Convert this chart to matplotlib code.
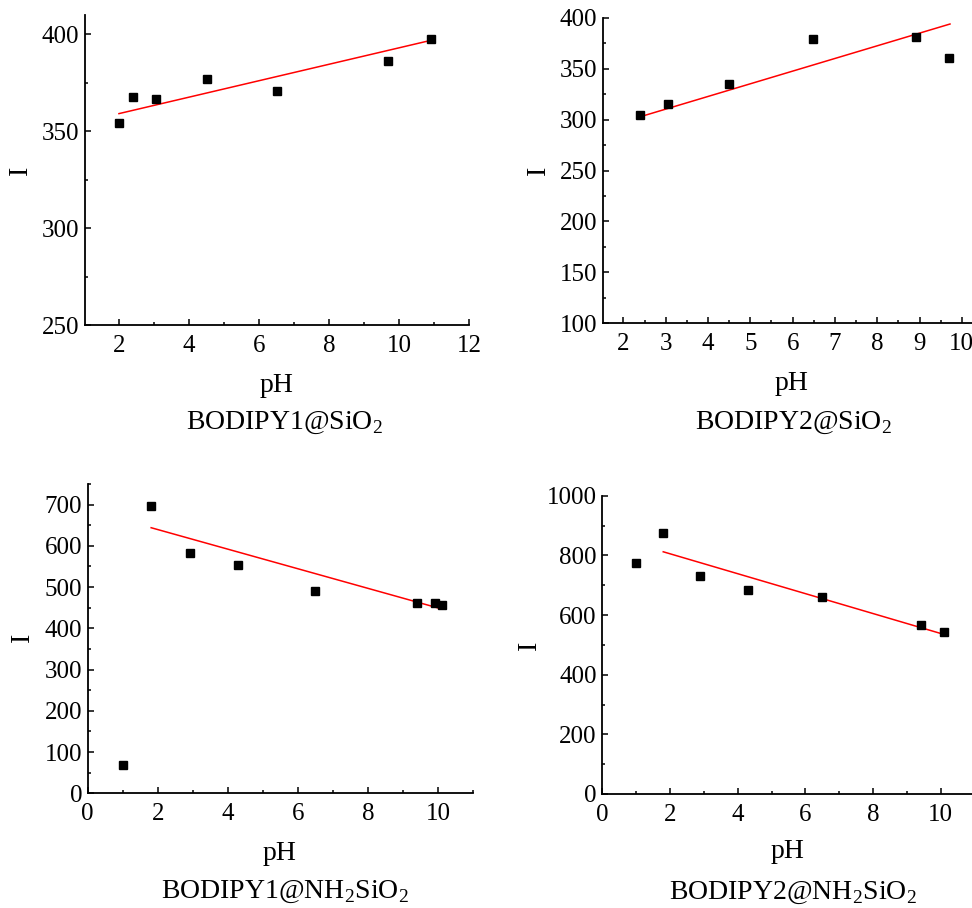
import numpy as np
import matplotlib
matplotlib.use("Agg")
import matplotlib.pyplot as plt
from matplotlib.ticker import MultipleLocator

plt.rcParams["font.family"] = ["Liberation Serif", "DejaVu Serif"]
plt.rcParams["mathtext.fontset"] = "custom"
plt.rcParams["mathtext.rm"] = "Liberation Serif"

W, H = 972, 908

# ----------- DATA -----------
ph_1 = [2.0, 2.4, 3.07, 4.51, 6.51, 9.69, 10.91]
i_1 = [354.3, 367.9, 366.9, 377.1, 370.9, 386.2, 397.4]
fit_x_1 = [2.0, 10.93]
fit_y_1 = [359.1, 397.0]

ph_2 = [2.40, 3.06, 4.50, 6.49, 8.91, 9.69]
i_2 = [304.5, 315.3, 334.9, 379.1, 380.7, 360.1]
fit_x_2 = [2.40, 9.72]
fit_y_2 = [302.8, 393.8]

ph_3 = [1.02, 1.81, 2.92, 4.30, 6.49, 9.40, 9.90, 10.11]
i_3 = [68.7, 695.9, 583.4, 553.5, 489.4, 461.3, 461.0, 456.4]
fit_x_3 = [1.81, 10.11]
fit_y_3 = [644.0, 446.7]

ph_4 = [0.99, 1.80, 2.90, 4.29, 6.49, 9.40, 10.09]
i_4 = [774.4, 876.0, 731.8, 683.9, 659.4, 566.5, 543.0]
fit_x_4 = [1.80, 10.09]
fit_y_4 = [812.0, 535.0]

titles = ["BODIPY1@SiO$_2$", "BODIPY2@SiO$_2$",
          "BODIPY1@NH$_2$SiO$_2$", "BODIPY2@NH$_2$SiO$_2$"]

# ----------- LAYOUT (pixel boxes: left, right, top, bottom) -----------
panels = [
    dict(x=ph_1, y=i_1, fx=fit_x_1, fy=fit_y_1, box=(85, 469, 15, 325),
         xlim=(1.03, 12), ylim=(250, 410), xmaj=2, xmin=1, ymaj=50, ymin=25,
         ylab=(20, 170), xlab=(277, 385), title=(284, 423)),
    dict(x=ph_2, y=i_2, fx=fit_x_2, fy=fit_y_2, box=(602.7, 972, 17.7, 323.3),
         xlim=(1.51, 10.24), ylim=(100, 400), xmaj=1, xmin=0.5, ymaj=50, ymin=25,
         ylab=(538, 170), xlab=(792, 383), title=(793, 423)),
    dict(x=ph_3, y=i_3, fx=fit_x_3, fy=fit_y_3, box=(87.7, 473.3, 484, 793.3),
         xlim=(0, 11), ylim=(0, 750), xmaj=2, xmin=1, ymaj=100, ymin=50,
         ylab=(22, 637), xlab=(280, 853), title=(285, 892)),
    dict(x=ph_4, y=i_4, fx=fit_x_4, fy=fit_y_4, box=(602.3, 972, 495.7, 794),
         xlim=(0, 10.92), ylim=(0, 1000), xmaj=2, xmin=1, ymaj=200, ymin=100,
         ylab=(529, 645), xlab=(788, 852), title=(793, 893)),
]

fig = plt.figure(figsize=(W / 100, H / 100), dpi=100)

for p, title in zip(panels, titles):
    l, r, t, b = p["box"]
    ax = fig.add_axes([l / W, 1 - b / H, (r - l) / W, (b - t) / H])
    ax.plot(p["fx"], p["fy"], color="red", lw=1.1, zorder=2)
    ax.plot(p["x"], p["y"], ls="none", marker="s", ms=6, color="black",
            clip_on=False, zorder=3)
    ax.set_xlim(*p["xlim"])
    ax.set_ylim(*p["ylim"])
    ax.xaxis.set_major_locator(MultipleLocator(p["xmaj"]))
    ax.xaxis.set_minor_locator(MultipleLocator(p["xmin"]))
    ax.yaxis.set_major_locator(MultipleLocator(p["ymaj"]))
    ax.yaxis.set_minor_locator(MultipleLocator(p["ymin"]))
    ax.tick_params(which="both", direction="in", width=1.1, labelsize=18)
    ax.tick_params(axis="x", which="major", length=4, pad=7)
    ax.tick_params(axis="y", which="major", length=4, pad=4)
    ax.tick_params(which="minor", length=2.5)
    for s in ("top", "right"):
        ax.spines[s].set_visible(False)
    for s in ("left", "bottom"):
        ax.spines[s].set_linewidth(1.3)

    fig.text(p["ylab"][0] / W, 1 - p["ylab"][1] / H, "I", fontsize=20,
             rotation=90, ha="center", va="center")
    fig.text(p["xlab"][0] / W, 1 - p["xlab"][1] / H, "pH", fontsize=20,
             ha="center", va="center")
    fig.text(p["title"][0] / W, 1 - p["title"][1] / H, title, fontsize=20,
             ha="center", va="center")

fig.savefig("out.png", dpi=100)
